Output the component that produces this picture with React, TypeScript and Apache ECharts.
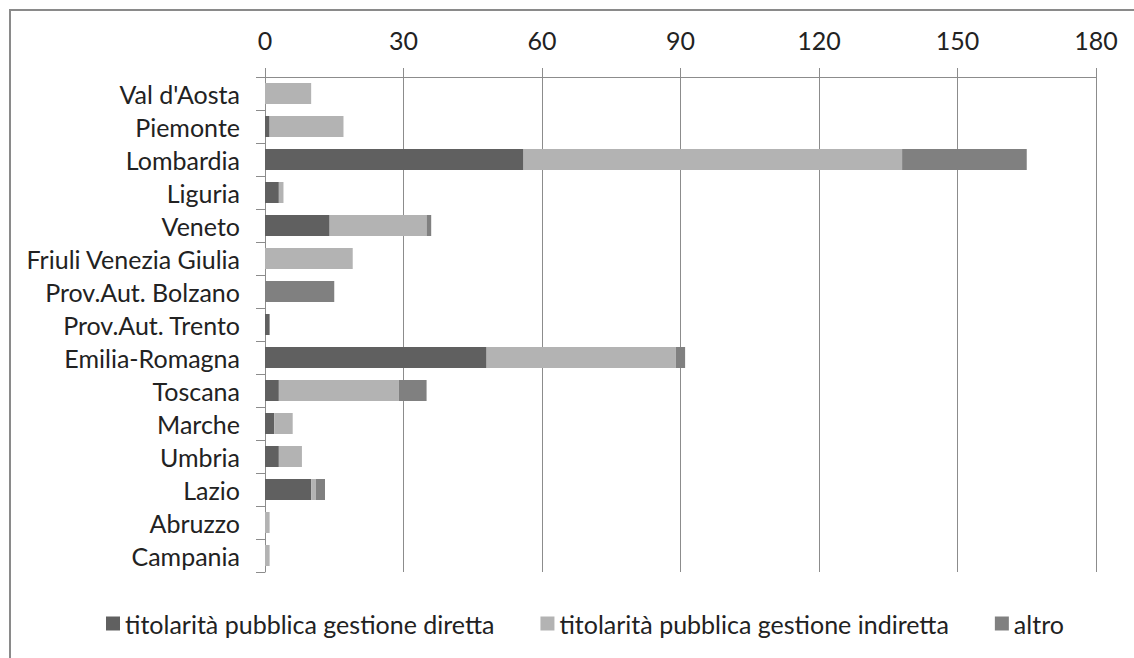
import React, { useEffect, useRef } from "react";
import * as echarts from "echarts";

const categories = [
  "Val d'Aosta",
  "Piemonte",
  "Lombardia",
  "Liguria",
  "Veneto",
  "Friuli Venezia Giulia",
  "Prov.Aut. Bolzano",
  "Prov.Aut. Trento",
  "Emilia-Romagna",
  "Toscana",
  "Marche",
  "Umbria",
  "Lazio",
  "Abruzzo",
  "Campania",
];

const gestioneDiretta = [0, 1, 56, 3, 14, 0, 0, 1, 48, 3, 2, 3, 10, 0, 0];
const gestioneIndiretta = [10, 16, 82, 1, 21, 19, 0, 0, 41, 26, 4, 5, 1, 1, 1];
const altro = [0, 0, 27, 0, 1, 0, 15, 0, 2, 6, 0, 0, 2, 0, 0];

const seriesNames = [
  "titolarità pubblica gestione diretta",
  "titolarità pubblica gestione indiretta",
  "altro",
];

const FONT = "Lato";
const FS = 25;

export default function App() {
  const ref = useRef<HTMLDivElement>(null);

  useEffect(() => {
    if (!ref.current) return;
    const chart = echarts.init(ref.current, undefined, { renderer: "svg" });
    const mk = (name: string, data: number[], color: string) => ({
      name,
      type: "bar",
      stack: "tot",
      data,
      barWidth: 21,
      itemStyle: { color },
    });
    chart.setOption({
      animation: false,
      backgroundColor: "#ffffff",
      textStyle: { fontFamily: FONT },
      graphic: [
        {
          type: "rect",
          shape: { x: 10, y: 10, width: 1200, height: 700 },
          style: { fill: "none", stroke: "#8a8a8a", lineWidth: 2 },
          silent: true,
        },
      ],
      grid: { left: 265, top: 77, right: 38, bottom: 86 },
      legend: {
        top: 606,
        left: 101,
        padding: 5,
        icon: "rect",
        itemWidth: 14,
        itemHeight: 14,
        itemGap: 46,
        textStyle: { fontFamily: FONT, fontSize: FS, color: "#222" },
        data: seriesNames,
      },
      xAxis: {
        type: "value",
        position: "top",
        min: 0,
        max: 180,
        interval: 30,
        axisLine: { show: true, lineStyle: { color: "#8c8c8c", width: 1 } },
        axisTick: { show: true, length: 9, lineStyle: { color: "#8c8c8c" } },
        splitLine: { show: true, lineStyle: { color: "#8c8c8c", width: 1 } },
        axisLabel: { fontFamily: FONT, fontSize: FS, color: "#222", margin: 25 },
      },
      yAxis: {
        type: "category",
        inverse: true,
        data: categories,
        axisLine: { show: true, lineStyle: { color: "#8c8c8c", width: 1 } },
        axisTick: { show: true, length: 9, lineStyle: { color: "#8c8c8c" } },
        axisLabel: { fontFamily: FONT, fontSize: FS, color: "#222", margin: 25 },
      },
      series: [
        mk(seriesNames[0], gestioneDiretta, "#606060"),
        mk(seriesNames[1], gestioneIndiretta, "#b3b3b3"),
        mk(seriesNames[2], altro, "#808080"),
      ],
    });
    return () => chart.dispose();
  }, []);

  return (
    <div
      ref={ref}
      style={{ position: "fixed", left: 0, top: 0, width: 1134, height: 658 }}
    />
  );
}
